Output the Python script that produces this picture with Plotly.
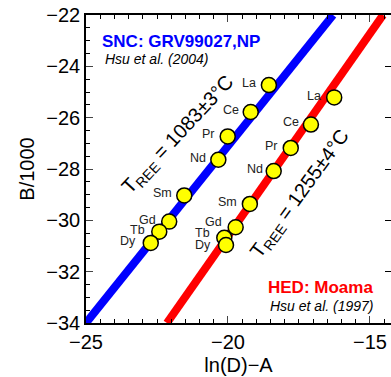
import plotly.graph_objects as go

# ---- data ----
ree = ["La", "Ce", "Pr", "Nd", "Sm", "Gd", "Tb", "Dy"]

snc_x = [-18.56, -19.20, -20.01, -20.34, -21.54, -22.07, -22.42, -22.72]
snc_y = [-24.73, -25.78, -26.73, -27.64, -29.03, -30.05, -30.44, -30.88]

hed_x = [-16.26, -17.08, -17.79, -18.39, -19.23, -19.73, -20.13, -20.07]
hed_y = [-25.21, -26.27, -27.18, -28.08, -29.36, -30.27, -30.68, -30.96]

# fitted isotherm lines (end points)
snc_fit_x = [-25.0, -16.30]
snc_fit_y = [-34.0, -22.0]
hed_fit_x = [-22.15, -14.54]
hed_fit_y = [-34.0, -22.0]

x_range = [-25, -14.26]
y_range = [-34, -22]

FONT = "Liberation Sans, Arial, Helvetica, sans-serif"

# label offsets (style)
snc_shift = [(-10.5, 2), (-10, 2), (-10.5, 2), (-10, 2), (-10, 2), (-11, 2), (-12, 1.5), (-13, 1.5)]
hed_shift = [(-11, 1), (-10, 2.5), (-11, 2), (-9, 2), (-10.5, 2), (-11.5, 5.5), (-12.5, 4.5), (-13, -0.5)]

fig = go.Figure()

fig.add_trace(go.Scatter(x=snc_fit_x, y=snc_fit_y, mode="lines",
                         line=dict(color="#0000ff", width=8),
                         hoverinfo="skip", showlegend=False))
fig.add_trace(go.Scatter(x=hed_fit_x, y=hed_fit_y, mode="lines",
                         line=dict(color="#ff0000", width=8),
                         hoverinfo="skip", showlegend=False))

for xs, ys in [(snc_x, snc_y), (hed_x, hed_y)]:
    fig.add_trace(go.Scatter(
        x=xs, y=ys, mode="markers",
        marker=dict(size=15, color="#ffff00", line=dict(color="black", width=1.5)),
        showlegend=False, cliponaxis=False))

# dummy trace to carry the right-hand tick axis
fig.add_trace(go.Scatter(x=[x_range[0]], y=[y_range[0]], yaxis="y2", mode="markers",
                         marker=dict(opacity=0), hoverinfo="skip", showlegend=False))

annotations = [
    dict(text="<b>SNC: GRV99027,NP</b>", x=-24.51, y=-23.05, xanchor="left", yanchor="middle",
         font=dict(family=FONT, size=17, color="#0000ff")),
    dict(text="<i>Hsu et al. (2004)</i>", x=-24.40, y=-23.72, xanchor="left", yanchor="middle",
         font=dict(family=FONT, size=14, color="black")),
    dict(text="<b>HED: Moama</b>", x=-14.82, y=-32.63, xanchor="right", yanchor="middle",
         font=dict(family=FONT, size=17, color="#ff0000")),
    dict(text="<i>Hsu et al. (1997)</i>", x=-14.79, y=-33.33, xanchor="right", yanchor="middle",
         font=dict(family=FONT, size=14, color="black")),
    dict(text="T<sub>REE</sub> = 1083±3°C", x=-21.76, y=-26.69, textangle=-47,
         xanchor="center", yanchor="middle",
         font=dict(family=FONT, size=20, color="black")),
    dict(text="T<sub>REE</sub> = 1255±4°C", x=-17.46, y=-28.99, textangle=-54,
         xanchor="center", yanchor="middle",
         font=dict(family=FONT, size=20, color="black")),
]
for xs, ys, shifts in [(snc_x, snc_y, snc_shift), (hed_x, hed_y, hed_shift)]:
    for name, xv, yv, (dx, dy) in zip(ree, xs, ys, shifts):
        annotations.append(dict(text=name, x=xv, y=yv, xanchor="right", yanchor="middle",
                                xshift=dx, yshift=dy,
                                font=dict(family=FONT, size=12.5, color="#222222")))
for a in annotations:
    a.update(xref="x", yref="y", showarrow=False)

fig.update_layout(
    width=391, height=377,
    margin=dict(l=86, r=0, t=15, b=54, pad=0, autoexpand=False),
    plot_bgcolor="white", paper_bgcolor="white",
    font=dict(family=FONT, size=20, color="black"),
    annotations=annotations,
    xaxis=dict(range=x_range, dtick=5, tick0=-25, ticks="inside", ticklen=7, tickwidth=1.2,
               showline=True, linecolor="black", linewidth=1.5, mirror="ticks",
               showgrid=False, zeroline=False, tickfont=dict(size=20), automargin=False,
               minor=dict(dtick=0.5, ticks="inside", ticklen=4, tickwidth=1, tickcolor="black"),
               title=dict(text="ln(D)−A", font=dict(size=20), standoff=6)),
    yaxis=dict(range=y_range, dtick=2, tick0=-34, ticks="inside", ticklen=7, tickwidth=1.2,
               showline=True, linecolor="black", linewidth=1.5, mirror=False,
               showgrid=False, zeroline=False, tickfont=dict(size=20), automargin=False,
               minor=dict(dtick=0.5, ticks="inside", ticklen=4, tickwidth=1, tickcolor="black"),
               title=dict(text="B/1000", font=dict(size=20), standoff=6)),
    yaxis2=dict(range=y_range, overlaying="y", side="right", dtick=2, tick0=-34,
                ticks="inside", ticklen=6, tickwidth=1.2, tickcolor="black", automargin=False,
                showticklabels=False, showline=False, showgrid=False, zeroline=False),
)

fig.write_html("out.html", config={"displayModeBar": False},
               post_script="document.body.style.margin='0';document.body.style.overflow='hidden';")
